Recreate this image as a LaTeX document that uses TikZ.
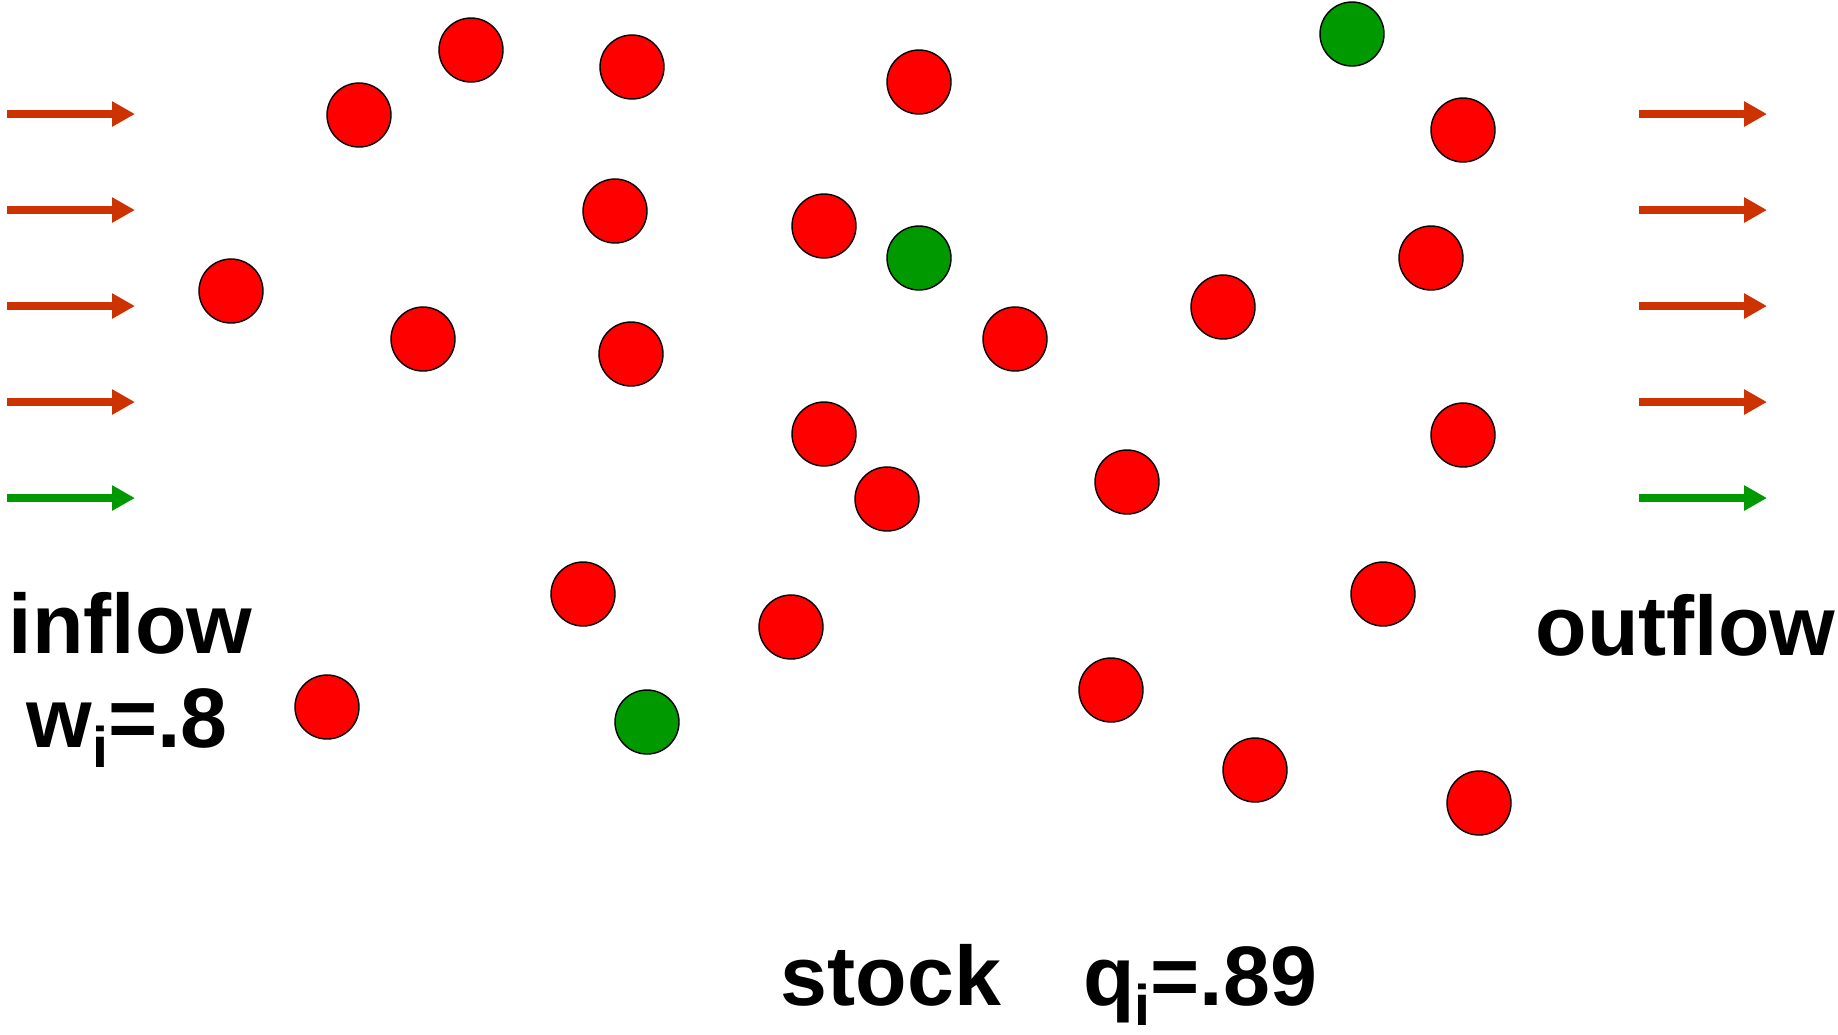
\documentclass[tikz,border=0pt]{standalone}
\usepackage{fontspec}
\setmainfont{Liberation Sans}
\usepackage{tikz}
\usetikzlibrary{arrows.meta}
\definecolor{flowred}{HTML}{CC3300}
\definecolor{tracergreen}{HTML}{009900}
\newcommand{\subi}{\raisebox{-2.0mm}{\fontsize{16.3}{18}\selectfont i}}

\begin{document}
\begin{tikzpicture}[
    x=0.1mm,y=-0.1mm,
    font=\fontsize{24}{28}\selectfont\bfseries,
    flow/.style={line width=0.78mm,-{Triangle[length=2.3mm,width=2.4mm]}},
    particle/.style={circle,draw=black,line width=0.4pt,fill=red,
        inner sep=0pt,minimum size=6.4mm},
    tracer/.style={particle,fill=tracergreen},
    caption/.style={inner sep=0pt}
]
\useasboundingbox (0,0) rectangle (1838,1034);

% Flow arrows; the bottom one of each side carries the tracer.
\foreach \row/\py in {1/114,2/210,3/306,4/402,5/498}{
    \coordinate (in\row) at (7,\py);
    \coordinate (inend\row) at (135,\py);
    \coordinate (out\row) at (1639,\py);
    \coordinate (outend\row) at (1767,\py);
}
\foreach \row in {1,...,4}{
    \draw[flow,flowred] (in\row) -- (inend\row);
    \draw[flow,flowred] (out\row) -- (outend\row);
}
\draw[flow,tracergreen] (in5) -- (inend5);
\draw[flow,tracergreen] (out5) -- (outend5);

% Particles in the stock.
\foreach \name/\px/\py in {
    p1/359/115, p2/471/50, p3/632/67, p4/919/82, p5/1463/130,
    p6/615/211, p7/824/226, p8/1431/258, p9/231/291, p10/423/339,
    p11/631/354, p12/1015/339, p13/1223/307, p14/824/434, p15/887/499,
    p16/1127/482, p17/1463/435, p18/583/594, p19/791/627, p20/1383/594,
    p21/327/707, p22/1111/690, p23/1255/770, p24/1479/803}{
    \node[particle] (\name) at (\px,\py) {};
}
% Tracer particles.
\node[tracer] (t1) at (1352,34) {};
\node[tracer] (t2) at (919,258) {};
\node[tracer] (t3) at (647,722) {};

% Labels.
\node[caption,anchor=base west] (inflow) at (8,653) {inflow};
\node[caption,anchor=base west] (inweight) at (26,747) {w\subi=.8};
\node[caption,anchor=base west] (outflow) at (1535,655) {outflow};
\node[caption,anchor=base west] (stock) at (780,1005)
    {stock\hspace{8.2mm}q\subi=.89};
\end{tikzpicture}
\end{document}
